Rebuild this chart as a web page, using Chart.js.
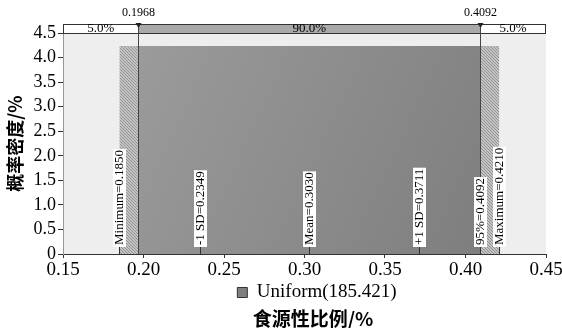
<!DOCTYPE html>
<html>
<head>
<meta charset="utf-8">
<script src="https://cdn.jsdelivr.net/npm/chart.js@4.4.0/dist/chart.umd.min.js"></script>
<style>
  html, body { margin: 0; padding: 0; background: #fff; }
  #wrap { width: 562px; height: 328px; }
</style>
</head>
<body>
<div id="wrap"><canvas id="chart"></canvas></div>
<script>
// distribution: Uniform(0.185, 0.421)
const distMin = 0.185;
const distMax = 0.421;
const density = 4.237;
const cutoffs = [0.1968, 0.4092];
const bandPercents = ['5.0%', '90.0%', '5.0%'];
const markerNames = ['Minimum', '-1 SD', 'Mean', '+1 SD', '95%', 'Maximum'];
const markerValues = [0.1850, 0.2349, 0.3030, 0.3711, 0.4092, 0.4210];
const xTicks = [0.15, 0.20, 0.25, 0.30, 0.35, 0.40, 0.45];
const yTicks = [0, 0.5, 1.0, 1.5, 2.0, 2.5, 3.0, 3.5, 4.0, 4.5];

const SERIF = '"Liberation Serif", "DejaVu Serif", serif';
const CJK = '"Noto Sans CJK SC", sans-serif';

// fine hatch for the tails
function hatch() {
  const c = document.createElement('canvas');
  c.width = 3; c.height = 3;
  const g = c.getContext('2d');
  g.fillStyle = '#c4c4c4';
  g.fillRect(0, 0, 3, 3);
  g.fillStyle = '#929292';
  g.fillRect(0, 0, 1, 1);
  g.fillRect(1, 1, 1, 1);
  g.fillRect(2, 2, 1, 1);
  return g.createPattern(c, 'repeat');
}
const tailFill = hatch();

function middleFill(ctx) {
  const area = ctx.chart.chartArea;
  if (!area) return '#888';
  const g = ctx.chart.ctx.createLinearGradient(area.left, area.top, area.right, area.bottom);
  g.addColorStop(0, '#a0a0a0');
  g.addColorStop(1, '#7a7a7a');
  return g;
}

const seg = (a, b) => [{ x: a, y: density }, { x: b, y: density }];

// plot background
const bgPlugin = {
  id: 'bg',
  beforeDraw(chart) {
    const { ctx, chartArea: a } = chart;
    ctx.save();
    ctx.fillStyle = '#eeeeee';
    ctx.fillRect(a.left, a.top, a.right - a.left, a.bottom - a.top);
    ctx.restore();
  }
};

// legend and axis title sit a bit right of the canvas centre
const shiftPlugin = {
  id: 'shift',
  afterLayout(chart) {
    const lg = chart.legend, tb = chart.titleBlock;
    if (lg) { lg.left += 34; lg.right += 34; }
    if (tb) { tb.left += 30; tb.right += 30; }
  }
};

// top percentage band, cutoff lines and marker labels
const overlayPlugin = {
  id: 'overlay',
  afterDatasetsDraw(chart) {
    const { ctx, chartArea: a, scales: { x } } = chart;
    const bandTop = a.top - 9, bandH = 9;
    const xs = [a.left, x.getPixelForValue(cutoffs[0]), x.getPixelForValue(cutoffs[1]), a.right];
    ctx.save();
    // band
    ctx.fillStyle = '#ffffff';
    ctx.fillRect(a.left, bandTop, a.right - a.left, bandH);
    ctx.fillStyle = '#a9a9a9';
    ctx.fillRect(xs[1], bandTop, xs[2] - xs[1], bandH);
    ctx.strokeStyle = '#333';
    ctx.lineWidth = 1;
    ctx.strokeRect(a.left + 0.5, bandTop + 0.5, a.right - a.left - 1, bandH);
    ctx.fillStyle = '#000';
    ctx.font = '13px ' + SERIF;
    ctx.textAlign = 'center';
    ctx.textBaseline = 'middle';
    for (let i = 0; i < 3; i++) {
      ctx.fillText(bandPercents[i], (xs[i] + xs[i + 1]) / 2, bandTop + 5);
    }
    // cutoff lines
    cutoffs.forEach(v => {
      const px = Math.round(x.getPixelForValue(v)) + 0.5;
      ctx.strokeStyle = '#444';
      ctx.beginPath();
      ctx.moveTo(px, bandTop);
      ctx.lineTo(px, a.bottom);
      ctx.stroke();
      ctx.fillStyle = '#222';
      ctx.beginPath();
      ctx.moveTo(px - 3, bandTop - 1);
      ctx.lineTo(px + 3, bandTop - 1);
      ctx.lineTo(px, bandTop + 4);
      ctx.closePath();
      ctx.fill();
      ctx.fillStyle = '#000';
      ctx.font = '12px ' + SERIF;
      ctx.fillText(v.toFixed(4), px, bandTop - 11);
    });
    // marker labels
    ctx.font = '13px ' + SERIF;
    markerNames.forEach((name, i) => {
      const v = markerValues[i];
      const px = Math.round(x.getPixelForValue(v)) + 0.5;
      const txt = name + '=' + v.toFixed(4);
      const w = ctx.measureText(txt).width;
      const base = a.bottom - 8;
      ctx.strokeStyle = '#333';
      ctx.beginPath();
      ctx.moveTo(px, base);
      ctx.lineTo(px, a.bottom);
      ctx.stroke();
      ctx.save();
      ctx.translate(px, base);
      ctx.rotate(-Math.PI / 2);
      ctx.fillStyle = '#fff';
      ctx.fillRect(-1, -6.5, w + 3, 13);
      ctx.fillStyle = '#000';
      ctx.textAlign = 'left';
      ctx.textBaseline = 'middle';
      ctx.fillText(txt, 1, 0.5);
      ctx.restore();
    });
    ctx.restore();
  }
};

new Chart(document.getElementById('chart').getContext('2d'), {
  type: 'line',
  data: {
    datasets: [
      { label: 'left', data: seg(distMin, cutoffs[0]), backgroundColor: tailFill, fill: 'origin', borderWidth: 0, pointRadius: 0 },
      { label: 'Uniform(185.421)', data: seg(cutoffs[0], cutoffs[1]), backgroundColor: middleFill, fill: 'origin', borderWidth: 0, pointRadius: 0 },
      { label: 'right', data: seg(cutoffs[1], distMax), backgroundColor: tailFill, fill: 'origin', borderWidth: 0, pointRadius: 0 }
    ]
  },
  options: {
    responsive: true,
    maintainAspectRatio: false,
    animation: false,
    layout: { padding: { top: 33, left: 4, right: 0, bottom: 0 } },
    scales: {
      x: {
        type: 'linear',
        min: 0.15,
        max: 0.45,
        afterBuildTicks: s => { s.ticks = xTicks.map(v => ({ value: v })); },
        afterFit: s => { s.height = 24; s.paddingRight = 16; },
        ticks: {
          color: '#000',
          font: { family: SERIF, size: 19 },
          padding: 1,
          maxRotation: 0,
          autoSkip: false,
          callback: v => v.toFixed(2)
        },
        grid: { display: true, drawOnChartArea: false, tickLength: 4, color: '#333' },
        border: { color: '#333' }
      },
      y: {
        min: 0,
        max: 4.5,
        afterBuildTicks: s => { s.ticks = yTicks.map(v => ({ value: v })); },
        afterFit: s => { s.width = 59; },
        ticks: {
          color: '#000',
          font: { family: SERIF, size: 18 },
          padding: 2,
          autoSkip: false,
          callback: v => v === 0 ? '0' : v.toFixed(1)
        },
        grid: { display: true, drawOnChartArea: false, tickLength: 5, color: '#333' },
        border: { color: '#999' },
        title: {
          display: true,
          text: '概率密度/%',
          color: '#000',
          font: { family: CJK, size: 18, weight: 'bold' },
          padding: 0
        }
      }
    },
    plugins: {
      legend: {
        position: 'bottom',
        maxHeight: 31,
        labels: {
          color: '#000',
          font: { family: SERIF, size: 19 },
          boxWidth: 10,
          boxHeight: 10,
          padding: 5,
          generateLabels: () => [{
            text: 'Uniform(185.421)', fillStyle: '#7f7f7f', strokeStyle: '#333',
            lineWidth: 1, datasetIndex: 1, hidden: false
          }]
        }
      },
      title: {
        display: true,
        position: 'bottom',
        text: '食源性比例/%',
        color: '#000',
        font: { family: CJK, size: 19, weight: 'bold', lineHeight: 1 },
        padding: { top: 0, bottom: 0 }
      },
      tooltip: { enabled: false }
    }
  },
  plugins: [bgPlugin, shiftPlugin, overlayPlugin]
});
</script>
</body>
</html>
